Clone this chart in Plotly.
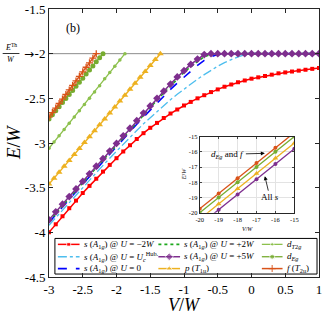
import plotly.graph_objects as go

# ---------------- data ----------------
V_S = [-3.0, -2.9, -2.8, -2.7, -2.6, -2.5, -2.4, -2.3, -2.2, -2.1, -2.0,
       -1.9, -1.8, -1.7, -1.6, -1.5, -1.4, -1.3, -1.2, -1.1, -1.0,
       -0.9, -0.8, -0.7, -0.6, -0.5, -0.4, -0.3, -0.2, -0.1, 0.0,
       0.1, 0.2, 0.3, 0.4, 0.5, 0.6, 0.7, 0.8, 0.9, 1.0]

E_S_UM2W = [-4.00, -3.91, -3.82, -3.73, -3.645, -3.56, -3.48, -3.40, -3.32, -3.245, -3.17,
            -3.095, -3.025, -2.955, -2.89, -2.83, -2.775, -2.72, -2.67, -2.625, -2.58,
            -2.54, -2.50, -2.465, -2.43, -2.40, -2.37, -2.345, -2.32, -2.30, -2.28,
            -2.265, -2.25, -2.235, -2.22, -2.21, -2.20, -2.19, -2.18, -2.17, -2.16]

E_S_UC = [-3.92, -3.835, -3.75, -3.665, -3.58, -3.495, -3.41, -3.33, -3.25, -3.17, -3.09,
          -3.01, -2.935, -2.86, -2.785, -2.715, -2.645, -2.58, -2.515, -2.455, -2.395,
          -2.34, -2.285, -2.235, -2.185, -2.14, -2.10, -2.065, -2.035, -2.012, -2.0,
          -2.0, -2.0, -2.0, -2.0, -2.0, -2.0, -2.0, -2.0, -2.0, -2.0]

E_S_U0 = [-3.89, -3.80, -3.715, -3.63, -3.545, -3.46, -3.375, -3.29, -3.205, -3.12, -3.035,
          -2.95, -2.87, -2.79, -2.71, -2.63, -2.55, -2.475, -2.40, -2.33, -2.26,
          -2.19, -2.13, -2.075, -2.035, -2.01, -2.0, -2.0, -2.0, -2.0, -2.0,
          -2.0, -2.0, -2.0, -2.0, -2.0, -2.0, -2.0, -2.0, -2.0, -2.0]

E_S_U2W = [-3.875, -3.785, -3.70, -3.615, -3.53, -3.445, -3.36, -3.275, -3.19, -3.105, -3.02,
           -2.935, -2.85, -2.765, -2.68, -2.60, -2.52, -2.44, -2.36, -2.285, -2.21,
           -2.145, -2.085, -2.035, -2.008, -2.0, -2.0, -2.0, -2.0, -2.0, -2.0,
           -2.0, -2.0, -2.0, -2.0, -2.0, -2.0, -2.0, -2.0, -2.0, -2.0]

E_S_U5W = [-3.86, -3.77, -3.685, -3.60, -3.515, -3.43, -3.345, -3.26, -3.175, -3.09, -3.005,
           -2.92, -2.835, -2.75, -2.665, -2.585, -2.50, -2.42, -2.34, -2.26, -2.19,
           -2.12, -2.06, -2.01, -2.0, -2.0, -2.0, -2.0, -2.0, -2.0, -2.0,
           -2.0, -2.0, -2.0, -2.0, -2.0, -2.0, -2.0, -2.0, -2.0, -2.0]

V_P = [-3.000, -2.925, -2.850, -2.775, -2.700, -2.625, -2.550, -2.475, -2.400, -2.325, -2.250,
       -2.175, -2.100, -2.025, -1.950, -1.875, -1.800, -1.725, -1.650, -1.575, -1.500,
       -1.425, -1.350]
E_P = [-3.460, -3.394, -3.327, -3.261, -3.195, -3.128, -3.062, -2.995, -2.929, -2.863, -2.796,
       -2.730, -2.664, -2.597, -2.531, -2.465, -2.398, -2.332, -2.265, -2.199, -2.133,
       -2.066, -2.000]

V_DT2G = [-3.000, -2.925, -2.850, -2.775, -2.700, -2.625, -2.550, -2.475, -2.400, -2.325,
          -2.250, -2.175, -2.100, -2.025, -1.950, -1.875]
E_DT2G = [-3.06, -2.99, -2.92, -2.85, -2.78, -2.71, -2.64, -2.57, -2.50, -2.43,
          -2.36, -2.28, -2.21, -2.14, -2.07, -2.00]

V_DEG = [-3.00, -2.95, -2.90, -2.85, -2.80, -2.75, -2.70, -2.65, -2.60, -2.55, -2.50,
         -2.45, -2.40, -2.35, -2.30, -2.25, -2.20]
E_DEG = [-2.730, -2.684, -2.639, -2.594, -2.548, -2.502, -2.456, -2.411, -2.365, -2.319, -2.274,
         -2.228, -2.182, -2.137, -2.091, -2.046, -2.000]

V_F = [-3.00, -2.95, -2.90, -2.85, -2.80, -2.75, -2.70, -2.65, -2.60, -2.55, -2.50,
       -2.45, -2.40, -2.35, -2.30]
E_F = [-2.710, -2.659, -2.609, -2.558, -2.508, -2.457, -2.406, -2.355, -2.305, -2.254, -2.203,
       -2.152, -2.102, -2.051, -2.000]

E_THRESHOLD = -2.0

# inset (far-V asymptotics)
IN_V = [-20, -19, -18, -17, -16, -15]
IN_F = [-19.74, -18.74, -17.74, -16.74, -15.74, -14.74]
IN_DEG = [-20.0, -19.0, -18.0, -17.0, -16.0, -15.0]
IN_P = [-20.42, -19.42, -18.42, -17.42, -16.42, -15.42]
IN_S = [-20.8, -19.8, -18.8, -17.8, -16.8, -15.8]

X_TICKS = [-3, -2.5, -2, -1.5, -1, -0.5, 0, 0.5, 1]
X_TICKTEXT = ['-3', '-2.5', '-2', '-1.5', '-1', '-0.5', '0', '0.5', '1']
Y_TICKS = [-4.5, -4, -3.5, -3, -2.5, -2, -1.5]
Y_TICKTEXT = ['-4.5', '-4', '-3.5', '-3', '-2.5', '-2', '-1.5']
IN_TICKS = [-20, -19, -18, -17, -16, -15]
IN_TICKTEXT = ['-20', '-19', '-18', '-17', '-16', '-15']

SA = '<i>s</i> (<i>A</i><sub>1<i>g</i></sub>) @ <i>U</i> = '
LABELS = [SA + '\u22122<i>W</i>',
          SA + '<i>U</i><sub><i>c</i></sub><sup>Hub.</sup>',
          SA + '0',
          SA + '+2<i>W</i>',
          SA + '+5<i>W</i>',
          '<i>p</i> (<i>T</i><sub>1<i>u</i></sub>)',
          '<i>d</i><sub><i>T</i>2<i>g</i></sub>',
          '<i>d</i><sub><i>E</i><i>g</i></sub>',
          '<i>f</i> (<i>T</i><sub>2<i>u</i></sub>)']

# ---------------- styles ----------------
RED = '#FF0000'; CYAN = '#4DBEEE'; BLUE = '#0000FF'; GDOT = '#1DA81D'
PURPLE = '#7E2F8E'; YELLOW = '#EDB120'; G1 = '#8CC04C'; G2 = '#77AC30'; ORANGE = '#D95319'
SERIF = 'Liberation Serif'

W, H = 325, 317
L, R, T, B = 49, 2, 6, 40
PW, PH = W - L - R, H - T - B


def px(x):
    return (x - L) / PW


def py(y):
    return (H - B - y) / PH


styles = [
    dict(line=dict(color=RED, width=1.5), marker=dict(symbol='square', size=4, color=RED), mode='lines+markers'),
    dict(line=dict(color=CYAN, width=1.3, dash='dashdot'), mode='lines'),
    dict(line=dict(color=BLUE, width=1.6, dash='dash'), mode='lines'),
    dict(line=dict(color=GDOT, width=1.6, dash='dot'), mode='lines'),
    dict(line=dict(color=PURPLE, width=1.5), marker=dict(symbol='diamond', size=6, color=PURPLE), mode='lines+markers'),
    dict(line=dict(color=YELLOW, width=1.5), marker=dict(symbol='triangle-up', size=6, color=YELLOW), mode='lines+markers'),
    dict(line=dict(color=G1, width=1.3), marker=dict(symbol='circle', size=3.5, color=G1), mode='lines+markers'),
    dict(line=dict(color=G2, width=1.3), marker=dict(symbol='circle', size=5, color=G2), mode='lines+markers'),
    dict(line=dict(color=ORANGE, width=1.5), marker=dict(symbol='cross-thin', size=5, color=ORANGE,
                                                        line=dict(color=ORANGE, width=1.3)), mode='lines+markers'),
]

series = [(V_S, E_S_UM2W), (V_S, E_S_UC), (V_S, E_S_U0), (V_S, E_S_U2W), (V_S, E_S_U5W),
          (V_P, E_P), (V_DT2G, E_DT2G), (V_DEG, E_DEG), (V_F, E_F)]
draw_order = [0, 1, 2, 3, 4, 5, 6, 7, 8]

fig = go.Figure()
for i in draw_order:
    xs, ys = series[i]
    st = styles[i]
    fig.add_trace(go.Scatter(x=xs, y=ys, mode=st['mode'], line=st['line'],
                             marker=st.get('marker'), showlegend=False, hoverinfo='skip'))

# inset traces
inset = [(IN_F, 8), (IN_DEG, 7), (IN_P, 5), (IN_S, 4)]
for ys, si in inset:
    st = styles[si]
    mk = dict(symbol='circle', size=4, color=st['line']['color'])
    if si == 5:
        mk = dict(symbol='triangle-up', size=5, color=YELLOW)
    fig.add_trace(go.Scatter(x=IN_V, y=ys, mode='lines+markers', line=dict(color=st['line']['color'], width=1.3),
                             marker=mk, xaxis='x2', yaxis='y2', showlegend=False, hoverinfo='skip'))

# manual legend (pixel coordinates on an overlay axis pair)
cols = [(58, 80, 82), (160, 182, 184), (265, 286, 288)]
rows = [244, 256.5, 268.5]
placement = [(0, 0), (0, 1), (0, 2), (1, 0), (1, 1), (1, 2), (2, 0), (2, 1), (2, 2)]
annotations = []


def ptext(text, x, y, size, family=SERIF, xanchor='center', angle=0):
    return dict(text=text, x=px(x), y=py(y), xref='paper', yref='paper', showarrow=False,
                xanchor=xanchor, yanchor='middle', textangle=angle,
                font=dict(family=family, size=size, color='black'))


for i, (c, r) in enumerate(placement):
    x0, x1, xt = cols[c]
    y = rows[r]
    st = styles[i]
    mk = st.get('marker')
    tr = dict(x=[x0, (x0 + x1) / 2, x1], y=[y, y, y], line=st['line'], xaxis='x3', yaxis='y3',
              showlegend=False, hoverinfo='skip')
    if mk:
        m = dict(mk)
        m['size'] = [0, mk['size'], 0]
        tr['mode'] = 'lines+markers'
        tr['marker'] = m
    else:
        tr['mode'] = 'lines'
    fig.add_trace(go.Scatter(**tr))
    annotations.append(ptext(LABELS[i], xt, y, 9, xanchor='left'))

shapes = [
    dict(type='line', xref='x domain', yref='y', x0=0, x1=1, y0=E_THRESHOLD, y1=E_THRESHOLD,
         line=dict(color='#8c8c8c', width=1), layer='below'),
    dict(type='rect', xref='paper', yref='paper', x0=px(55), x1=px(321), y0=py(274), y1=py(238),
         line=dict(color='black', width=1), fillcolor='white', layer='below'),
    dict(type='line', xref='paper', yref='paper', x0=px(2), x1=px(19), y0=py(51), y1=py(51),
         line=dict(color='black', width=0.8)),
]

annotations += [
    ptext('(b)', 73, 25, 12),
    ptext('<i>E</i><sup>Th</sup>', 10.5, 44.5, 8),
    ptext('<i>W</i>', 10.5, 57.5, 8),
    ptext('\u2192', 29, 51, 12, family='DejaVu Sans'),
    ptext('<i>V</i>/<i>W</i>', 186, 305.5, 18),
    ptext('<i>E</i>/<i>W</i>', 13, 141, 19, angle=-90),
    ptext('<i>E</i>/<i>W</i>', 186, 173, 6, angle=-90),
    ptext('<i>V</i>/<i>W</i>', 250, 228, 6),
    dict(text='<i>d</i><sub><i>E</i><i>g</i></sub> and <i>f</i>', x=-16.56, y=-16.10, xref='x2', yref='y2',
         ax=-37, ay=1, showarrow=True, arrowhead=2, arrowsize=1, arrowwidth=0.8, arrowcolor='black',
         font=dict(family=SERIF, size=9, color='black')),
    dict(text='All <i>s</i>', x=-16.56, y=-17.60, xref='x2', yref='y2',
         ax=5, ay=21, showarrow=True, arrowhead=2, arrowsize=1, arrowwidth=0.8, arrowcolor='black',
         font=dict(family=SERIF, size=9, color='black')),
]

axis_common = dict(ticks='inside', showline=True, mirror='ticks', linecolor='#262626', linewidth=1,
                   zeroline=False, showgrid=False, tickcolor='#262626', ticklabeloverflow='allow')

fig.update_layout(
    width=W, height=H, margin=dict(l=L, r=R, t=T, b=B),
    paper_bgcolor='white', plot_bgcolor='white', showlegend=False,
    xaxis=dict(domain=[0, 1], range=[-3, 1], tickvals=X_TICKS, ticktext=X_TICKTEXT, ticklen=4,
               tickfont=dict(family=SERIF, size=13, color='black'), **axis_common),
    yaxis=dict(domain=[0, 1], range=[-4.5, -1.5], tickvals=Y_TICKS, ticktext=Y_TICKTEXT, ticklen=4,
               tickfont=dict(family=SERIF, size=13, color='black'), **axis_common),
    xaxis2=dict(domain=[px(202), px(298)], anchor='y2', range=[-20, -15], tickvals=IN_TICKS,
                ticktext=IN_TICKTEXT, ticklen=2, tickfont=dict(family=SERIF, size=6.5, color='black'),
                ticks='inside', showline=True, mirror='ticks', linecolor='#262626', linewidth=1,
                zeroline=False, showgrid=True, gridcolor='#e3e3e3', gridwidth=0.7),
    yaxis2=dict(domain=[py(212), py(135)], anchor='x2', range=[-20, -15], tickvals=IN_TICKS,
                ticktext=IN_TICKTEXT, ticklen=2, tickfont=dict(family=SERIF, size=6.5, color='black'),
                ticks='inside', showline=True, mirror='ticks', linecolor='#262626', linewidth=1,
                zeroline=False, showgrid=True, gridcolor='#e3e3e3', gridwidth=0.7),
    xaxis3=dict(overlaying='x', anchor='y3', range=[L, W - R], visible=False),
    yaxis3=dict(overlaying='y', anchor='x3', range=[H - B, T], visible=False),
    shapes=shapes, annotations=annotations,
)

fig.write_html('out.html', config={'displayModeBar': False},
               post_script="document.body.style.margin='0px';document.body.style.overflow='hidden';")
